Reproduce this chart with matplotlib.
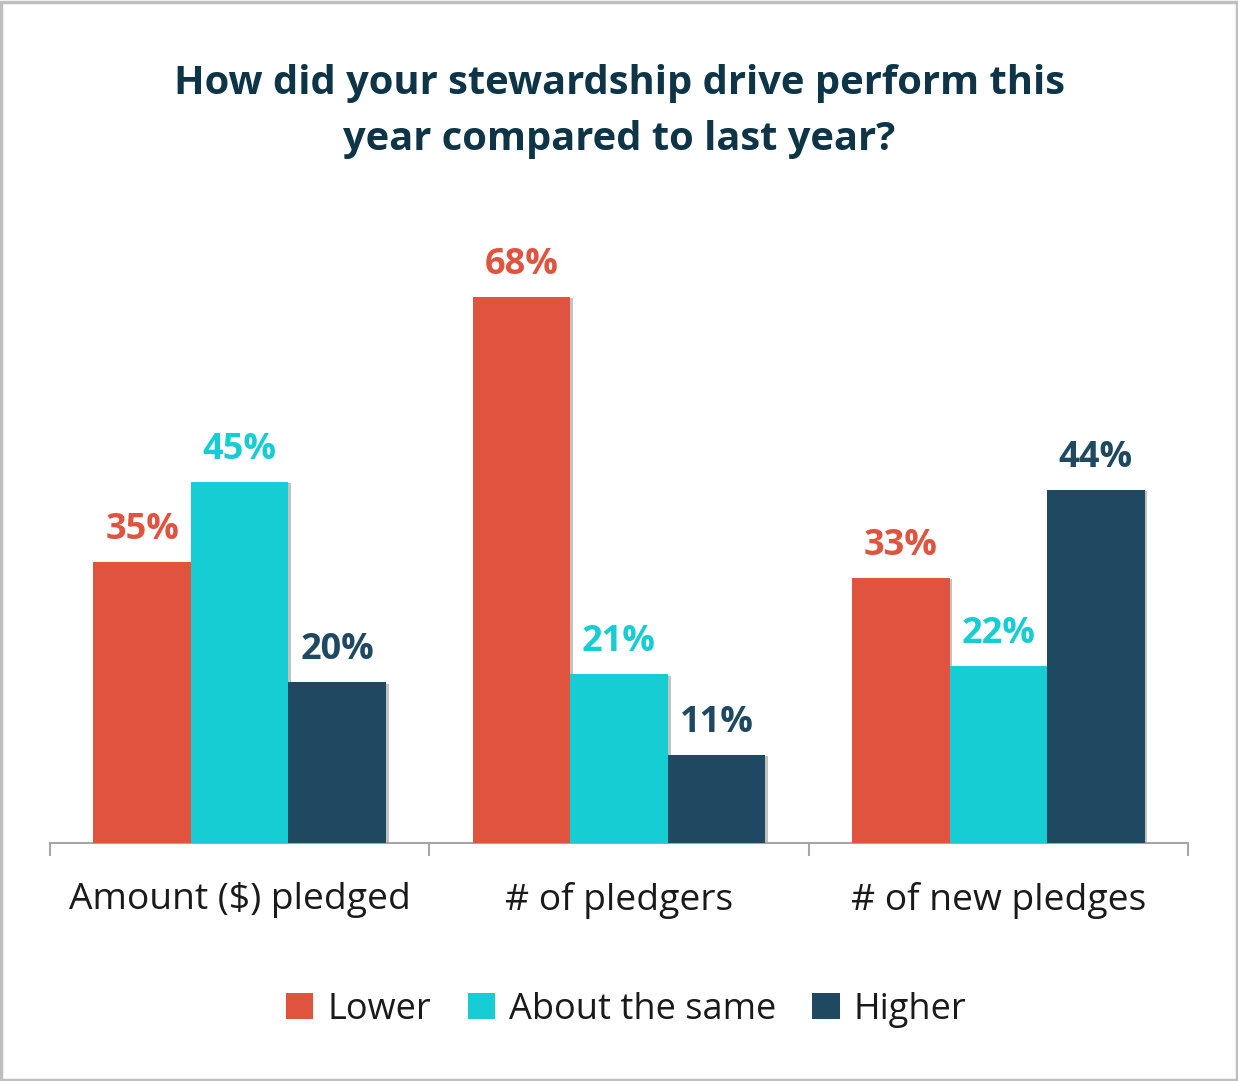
import matplotlib.pyplot as plt
import matplotlib.patheffects as pe
from matplotlib.patches import Patch, Rectangle
import numpy as np

categories = ['Amount ($) pledged', '# of pledgers', '# of new pledges']
series = ['Lower', 'About the same', 'Higher']
lower = [35, 68, 33]
same = [45, 21, 22]
higher = [20, 11, 44]
colors = ['#E0533F', '#17CDD4', '#1F4961']

plt.rcParams['font.family'] = ['Open Sans', 'DejaVu Sans']

fig = plt.figure(figsize=(12.38, 10.81), dpi=100)
ax = fig.add_axes([0.0404, 0.2202, 0.9192, 0.5942])

x = np.arange(len(categories))
w = 0.257
shadow = [pe.SimplePatchShadow(offset=(2, -1), shadow_rgbFace='#9a9a9a', alpha=0.6), pe.Normal()]
for i, (vals, col) in enumerate(zip([lower, same, higher], colors)):
    bars = ax.bar(x + (i - 1) * w, vals, width=w, color=col, label=series[i], zorder=3)
    for b in bars:
        b.set_path_effects(shadow)
    for xi, v in zip(x + (i - 1) * w, vals):
        ax.annotate(f'{v}%', (xi, v), xytext=(0, 10), textcoords='offset points',
                    ha='center', va='bottom', fontsize=26, fontweight='bold', color=col)

ax.set_xlim(-0.5, 2.5)
ax.set_ylim(0, 80)
ax.set_yticks([])
for s in ['top', 'right', 'left']:
    ax.spines[s].set_visible(False)
ax.spines['bottom'].set_color('#A6A6A6')
ax.spines['bottom'].set_linewidth(1.5)
ax.set_xticks(x)
ax.set_xticklabels(categories, fontsize=26.8, color='#1a1a1a')
ax.tick_params(axis='x', which='major', length=0, pad=28)
ax.set_xticks([-0.5, 0.5, 1.5, 2.5], minor=True)
ax.tick_params(axis='x', which='minor', length=9, width=1.5, color='#A6A6A6', direction='out')

fig.text(0.5, 0.897, 'How did your stewardship drive perform this\nyear compared to last year?',
         ha='center', va='center', fontsize=28.7, fontweight='bold', color='#0D3447',
         linespacing=1.55)

handles = [Patch(facecolor=c, edgecolor='none') for c in colors]
fig.legend(handles, series, loc='center', bbox_to_anchor=(0.506, 0.066), ncol=3,
           frameon=False, fontsize=26, handlelength=0.75, handleheight=0.75,
           handletextpad=0.4, columnspacing=1.0, labelcolor='#1a1a1a')

fig.patches.append(Rectangle((0.001, 0.001), 0.998, 0.997, transform=fig.transFigure,
                             fill=False, edgecolor='#BFBFBF', linewidth=2.5))

fig.savefig('out.png', dpi=100)
